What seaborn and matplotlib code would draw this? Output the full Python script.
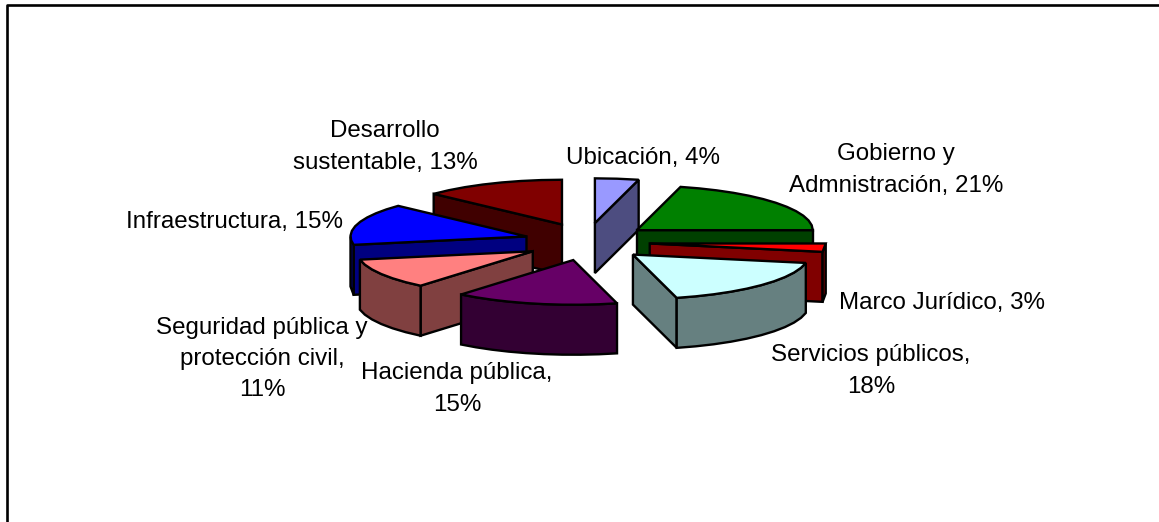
import numpy as np
import matplotlib.pyplot as plt
import seaborn as sns

# Values, clockwise from 12 o'clock
shares = [4, 21, 3, 18, 15, 11, 15, 13]
labels = ["Ubicación, 4%", "Gobierno y\nAdmnistración, 21%", "Marco Jurídico, 3%",
          "Servicios públicos,\n18%", "Hacienda pública,\n15%",
          "Seguridad pública y\nprotección civil,\n11%", "Infraestructura, 15%",
          "Desarrollo\nsustentable, 13%"]
top_colors = ["#9999ff", "#008000", "#ff0000", "#ccffff", "#660066", "#ff8080", "#0000ff", "#800000"]

# Layout, in pixels of the output image
label_xy = [(643, 158), (896, 170), (942, 303), (871, 371), (457, 389), (262, 359), (235, 222), (385, 147)]
draw_order = [7, 0, 1, 6, 5, 4, 2, 3]
cx, cy = 587, 241.7
rx, ry = 176, 44.7
depth = 50
explode_x, explode_y = 63, 18.8

sns.set_theme(style="white")
plt.rcParams["font.family"] = ["Liberation Sans", "DejaVu Sans"]
palette = sns.color_palette(top_colors)

fig = plt.figure(figsize=(11.59, 5.22), dpi=100)
ax = fig.add_axes([0, 0, 1, 1])
ax.set_xlim(0, 1159)
ax.set_ylim(522, 0)
ax.axis("off")

edges = np.cumsum([0] + shares) * 3.6


def rim_points(a0, a1):
    # coarse steps, the original outline is a bit jagged
    n = max(int(abs(a1 - a0) / 6), 1) + 1
    t = np.radians(np.linspace(a0, a1, n))
    return rx * np.sin(t), -ry * np.cos(t)


def face(x, y, color):
    ax.fill(x, y, facecolor=color, edgecolor="black", linewidth=1.7, joinstyle="miter")


for i in draw_order:
    a0, a1 = edges[i], edges[i + 1]
    mid = np.radians((a0 + a1) / 2)
    tx = cx + explode_x * np.sin(mid)
    ty = cy - explode_y * np.cos(mid)
    top = palette[i]
    side = tuple(c / 2 for c in top)

    # flat walls, only the ones turned toward the viewer
    for a, show in ((a0, np.sin(np.radians(a0)) < -1e-6), (a1, np.sin(np.radians(a1)) > 1e-6)):
        if show:
            ex = tx + rx * np.sin(np.radians(a))
            ey = ty - ry * np.cos(np.radians(a))
            face([tx, ex, ex, tx], [ty, ey, ey + depth, ty + depth], side)

    # outer rim on the lower half of the ellipse
    r0, r1 = max(a0, 90), min(a1, 270)
    if r1 > r0:
        x, y = rim_points(r0, r1)
        face(np.r_[tx + x, (tx + x)[::-1]], np.r_[ty + y, (ty + y + depth)[::-1]], side)

    # top of the slice
    x, y = rim_points(a0, a1)
    face(np.r_[tx, tx + x], np.r_[ty, ty + y], top)

for text, (lx, ly) in zip(labels, label_xy):
    ax.text(lx, ly, text, ha="center", va="center", fontsize=17.4, color="black", linespacing=1.55)

# chart border runs off the right and bottom of the image
ax.plot([7, 7, 1159], [522, 5, 5], color="black", linewidth=1.9, clip_on=False)

fig.savefig("out.png", dpi=100)
